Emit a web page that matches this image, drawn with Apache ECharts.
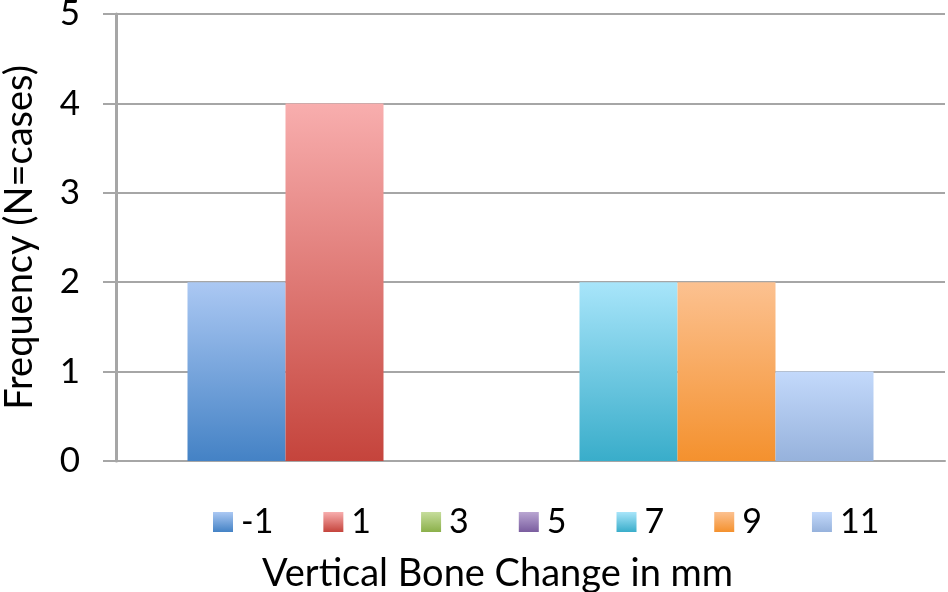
<!DOCTYPE html>
<html>
<head>
<meta charset="utf-8">
<script src="https://cdn.jsdelivr.net/npm/echarts@6/dist/echarts.min.js"></script>
<style>html,body{margin:0;padding:0;background:#fff;}#chart{width:948px;height:592px;}</style>
</head>
<body>
<div id="chart"></div>
<script>
var seriesNames = ['-1', '1', '3', '5', '7', '9', '11'];
var frequencies = [2, 4, 0, 0, 2, 2, 1];
var yTicks = [0, 1, 2, 3, 4, 5];
var topColors = ['#abc8f3', '#f8aeae', '#c6dd9c', '#b9a6d2', '#a8e5fa', '#fcc190', '#c3d9fb'];
var bottomColors = ['#4482c5', '#c5443c', '#8bb04a', '#7a5d9f', '#39adca', '#f4912e', '#96b2dc'];

var FONT = 'Lato';
var chart = echarts.init(document.getElementById('chart'));
var series = seriesNames.map(function (n, i) {
  return {
    name: n,
    type: 'bar',
    data: [frequencies[i]],
    barWidth: 98,
    barGap: '0%',
    itemStyle: {
      color: new echarts.graphic.LinearGradient(0, 0, 0, 1, [
        {offset: 0, color: topColors[i]},
        {offset: 1, color: bottomColors[i]}
      ])
    }
  };
});
chart.setOption({
  animation: false,
  grid: {left: 116, right: 3, top: 14, bottom: 131, containLabel: false, outerBoundsMode: 'none'},
  legend: {
    left: 213, top: 505, padding: 0,
    itemWidth: 20, itemHeight: 20, itemGap: 50,
    icon: 'rect',
    textStyle: {fontFamily: FONT, fontSize: 34, color: '#000', padding: [0, 0, 0, 3]},
    data: seriesNames
  },
  xAxis: {
    type: 'category',
    data: [''],
    name: 'Vertical Bone Change in mm',
    nameLocation: 'middle',
    nameGap: 94,
    nameTextStyle: {fontFamily: FONT, fontSize: 38, color: '#000', padding: [0, 66, 0, 0]},
    axisLine: {show: true, lineStyle: {color: '#a6a6a6', width: 2}},
    axisTick: {show: false},
    axisLabel: {show: false}
  },
  yAxis: {
    type: 'value',
    min: yTicks[0], max: yTicks[yTicks.length - 1], interval: 1,
    name: 'Frequency (N=cases)',
    nameLocation: 'middle',
    nameGap: 77,
    nameTextStyle: {fontFamily: FONT, fontSize: 38, color: '#000'},
    axisLine: {show: true, lineStyle: {color: '#a6a6a6', width: 3}},
    axisTick: {show: true, length: 13, lineStyle: {color: '#a6a6a6', width: 2}},
    axisLabel: {fontFamily: FONT, fontSize: 35, color: '#000', margin: 36},
    splitLine: {show: true, lineStyle: {color: '#a6a6a6', width: 2}}
  },
  series: series
});
</script>
</body>
</html>
